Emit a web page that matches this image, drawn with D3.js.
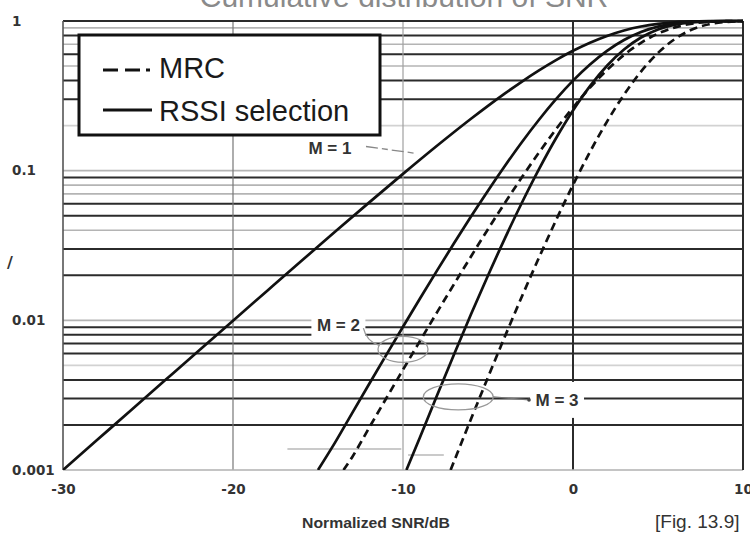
<!DOCTYPE html>
<html>
<head>
<meta charset="utf-8">
<script src="https://cdn.jsdelivr.net/npm/d3@7"></script>
<style>
  html, body { margin: 0; padding: 0; background: #fff; }
  svg { display: block; }
</style>
</head>
<body>
<svg id="chart" width="750" height="542"></svg>
<script>
// ---- data: cumulative distribution of normalized SNR ----
const snrTicks = [-30, -20, -10, 0, 10];
const probTicks = [0.001, 0.01, 0.1, 1];
const probTickLabels = ["0.001", "0.01", "0.1", "1"];

// RSSI selection, M = 1
const selM1Snr = [-30, -28, -26, -24, -22, -20, -18, -16, -14, -12, -10, -8, -6, -5, -4, -3, -2, -1, 0, 1, 2, 3, 4, 5, 6, 7, 8, 9, 10];
const selM1Cdf = [0.001, 0.001584, 0.002509, 0.003973, 0.00629, 0.00995, 0.01572, 0.02481, 0.03903, 0.06115, 0.09516, 0.1466, 0.2222, 0.2711, 0.3284, 0.3942, 0.4679, 0.5481, 0.6321, 0.7161, 0.795, 0.864, 0.9189, 0.9577, 0.9813, 0.9934, 0.9982, 0.9996, 1.0];

// RSSI selection, M = 2
const selM2Snr = [-15, -14, -13, -12, -11, -10, -9, -8, -7, -6, -5, -4, -3, -2, -1, 0, 1, 2, 3, 4, 5, 6, 7, 8, 9, 10];
const selM2Cdf = [0.001, 0.001523, 0.002389, 0.003739, 0.005831, 0.009055, 0.014, 0.02149, 0.03272, 0.04937, 0.0735, 0.1078, 0.1554, 0.2189, 0.3004, 0.3996, 0.5128, 0.632, 0.7465, 0.8444, 0.9172, 0.963, 0.9867, 0.9964, 0.9993, 0.9999];

// RSSI selection, M = 3
const selM3Snr = [-9.8, -9, -8, -7, -6, -5, -4, -3, -2, -1, 0, 1, 2, 3, 4, 5, 6, 7, 8, 9, 10];
const selM3Cdf = [0.001, 0.001656, 0.003151, 0.00592, 0.01097, 0.01992, 0.03542, 0.06126, 0.1024, 0.1647, 0.2526, 0.3672, 0.5025, 0.645, 0.7759, 0.8784, 0.945, 0.9802, 0.9946, 0.9989, 0.9999];

// MRC, M = 2
const mrcM2Snr = [-13.5, -13, -12, -11, -10, -9, -8, -7, -6, -5, -4, -3, -2, -1, 0, 1, 2, 3, 4, 5, 6, 7, 8, 9, 10];
const mrcM2Cdf = [0.001, 0.001214, 0.001909, 0.002993, 0.004679, 0.00728, 0.01131, 0.01744, 0.02672, 0.04065, 0.06105, 0.09057, 0.1322, 0.1892, 0.2642, 0.3586, 0.4702, 0.5927, 0.7151, 0.8239, 0.907, 0.96, 0.9867, 0.9968, 0.9995];

// MRC, M = 3
const mrcM3Snr = [-7.2, -7, -6, -5, -4, -3, -2, -1, 0, 1, 2, 3, 4, 5, 6, 7, 8, 9, 10];
const mrcM3Cdf = [0.001, 0.00114, 0.002191, 0.004165, 0.007826, 0.01448, 0.02625, 0.0466, 0.0803, 0.1336, 0.2127, 0.322, 0.4592, 0.6124, 0.7591, 0.8764, 0.9505, 0.9856, 0.9972];

const legendLabels = ["MRC", "RSSI selection"];
const branchLabels = ["M = 1", "M = 2", "M = 3"];

// ---- layout ----
const svg = d3.select("#chart");
const W = 750, H = 542;
const plot = { left: 63, right: 743, top: 21, bottom: 470 };

const x = d3.scaleLinear().domain([-30, 10]).range([plot.left, plot.right]);
const y = d3.scaleLog().domain([0.001, 1]).range([plot.bottom, plot.top]);

svg.append("rect").attr("width", W).attr("height", H).attr("fill", "#fff");

// title, partly above the visible area
svg.append("text")
  .attr("x", 404).attr("y", 7)
  .attr("text-anchor", "middle")
  .attr("font-family", "Liberation Sans, Arial, sans-serif")
  .attr("font-size", 30)
  .attr("fill", "#8a8a8a")
  .text("Cumulative distribution of SNR");

// ---- horizontal grid at every minor decade step ----
const key = v => +v.toPrecision(2);
const heavyGrid = new Set([0.8, 0.6, 0.4, 0.3, 0.09, 0.06, 0.05, 0.03, 0.02,
                           0.009, 0.008, 0.007, 0.006, 0.004, 0.003, 0.002]);
const faintGrid = new Set([0.2, 0.005]);
const gridG = svg.append("g");
y.ticks().forEach(v => {
  const k = key(v);
  if (k === 1 || k === 0.001) return;
  const heavy = heavyGrid.has(k);
  gridG.append("line")
    .attr("x1", plot.left).attr("x2", plot.right)
    .attr("y1", y(v)).attr("y2", y(v))
    .attr("stroke", heavy ? "#2b2b2b" : (faintGrid.has(k) ? "#d2d2d2" : "#b4b4b4"))
    .attr("stroke-width", heavy ? 2 : 1.6);
});

// loose partial rules near the bottom
const partialRules = [
  { from: -16.8, to: -10.1, p: 0.00138 },
  { from: -9.7, to: -7.6, p: 0.00126 }
];
partialRules.forEach(r => {
  gridG.append("line")
    .attr("x1", x(r.from)).attr("x2", x(r.to))
    .attr("y1", y(r.p)).attr("y2", y(r.p))
    .attr("stroke", "#b8b8b8").attr("stroke-width", 1.6);
});

// vertical rules
const vStyle = { "-20": ["#777", 1.2], "-10": ["#a0a0a0", 1.2], "0": ["#2b2b2b", 2] };
snrTicks.forEach(t => {
  if (t === -30 || t === 10) return;
  const s = vStyle[String(t)];
  gridG.append("line")
    .attr("x1", x(t)).attr("x2", x(t))
    .attr("y1", plot.top).attr("y2", plot.bottom)
    .attr("stroke", s[0]).attr("stroke-width", s[1]);
});

// frame
gridG.append("line").attr("x1", plot.left).attr("x2", plot.right)
  .attr("y1", plot.top).attr("y2", plot.top).attr("stroke", "#2b2b2b").attr("stroke-width", 2);
gridG.append("line").attr("x1", plot.left).attr("x2", plot.right)
  .attr("y1", plot.bottom).attr("y2", plot.bottom).attr("stroke", "#b0b0b0").attr("stroke-width", 1.6);
gridG.append("line").attr("x1", plot.left).attr("x2", plot.left)
  .attr("y1", plot.top).attr("y2", plot.bottom).attr("stroke", "#555").attr("stroke-width", 1.6);
gridG.append("line").attr("x1", plot.right).attr("x2", plot.right)
  .attr("y1", plot.top).attr("y2", plot.bottom).attr("stroke", "#2b2b2b").attr("stroke-width", 2);

// ---- curves ----
svg.append("clipPath").attr("id", "plotClip")
  .append("rect")
  .attr("x", plot.left).attr("y", plot.top - 2)
  .attr("width", plot.right - plot.left).attr("height", plot.bottom - plot.top + 2);

const series = [
  { snr: selM1Snr, cdf: selM1Cdf, dashed: false },
  { snr: selM2Snr, cdf: selM2Cdf, dashed: false },
  { snr: selM3Snr, cdf: selM3Cdf, dashed: false },
  { snr: mrcM2Snr, cdf: mrcM2Cdf, dashed: true },
  { snr: mrcM3Snr, cdf: mrcM3Cdf, dashed: true }
];

const line = d3.line()
  .x(d => x(d[0]))
  .y(d => y(d[1]))
  .curve(d3.curveMonotoneX);

const curveG = svg.append("g").attr("clip-path", "url(#plotClip)");
series.forEach(s => {
  curveG.append("path")
    .datum(d3.zip(s.snr, s.cdf))
    .attr("d", line)
    .attr("fill", "none")
    .attr("stroke", "#111")
    .attr("stroke-width", 2.7)
    .attr("stroke-dasharray", s.dashed ? "8,5" : null);
});

// ---- legend ----
const legend = svg.append("g");
legend.append("rect")
  .attr("x", 79).attr("y", 35).attr("width", 301).attr("height", 100)
  .attr("fill", "#fff").attr("stroke", "#111").attr("stroke-width", 3);
legend.append("line")
  .attr("x1", 103).attr("x2", 151).attr("y1", 70).attr("y2", 70)
  .attr("stroke", "#111").attr("stroke-width", 3)
  .attr("stroke-dasharray", "15,7,15,6,4,100");
legend.append("line")
  .attr("x1", 103).attr("x2", 152).attr("y1", 110).attr("y2", 110)
  .attr("stroke", "#111").attr("stroke-width", 3);
legendLabels.forEach((t, i) => {
  legend.append("text")
    .attr("x", 159).attr("y", i === 0 ? 78 : 121)
    .attr("font-family", "Liberation Sans, Arial, sans-serif")
    .attr("font-size", 29)
    .attr("fill", "#1a1a1a")
    .text(t);
});

// ---- branch annotations ----
const annG = svg.append("g");
const labelFont = "Liberation Sans, Arial, sans-serif";

// label anchors in data coordinates, with the size of the blank patch under each
const labelPos = [
  { snr: -14.3, p: 0.1416, padH: 22 },
  { snr: -13.8, p: 0.0093, padH: 22 },
  { snr: -0.94, p: 0.00294, padH: 36 }
];

// M = 1 pointer
annG.append("line")
  .attr("x1", 366).attr("y1", y(0.145)).attr("x2", x(-9.35)).attr("y2", y(0.131))
  .attr("stroke", "#888").attr("stroke-width", 1.3).attr("stroke-dasharray", "12,4,6,4");

// M = 2 ring
annG.append("ellipse")
  .attr("cx", x(-10)).attr("cy", y(0.0064)).attr("rx", 25).attr("ry", 13)
  .attr("fill", "none").attr("stroke", "#999").attr("stroke-width", 1.3);

// M = 3 ring
annG.append("ellipse")
  .attr("cx", x(-6.75)).attr("cy", y(0.00308)).attr("rx", 35).attr("ry", 13)
  .attr("fill", "none").attr("stroke", "#999").attr("stroke-width", 1.3);

// blank patches under the labels
labelPos.forEach(lp => {
  const cx = x(lp.snr), cy = y(lp.p);
  annG.append("rect")
    .attr("x", cx - 27).attr("y", cy - lp.padH / 2).attr("width", 54).attr("height", lp.padH)
    .attr("fill", "#fff");
});

// M = 2 hook from label to ring
const m2x = x(labelPos[1].snr) + 25, m2y = y(labelPos[1].p) + 3;
annG.append("path")
  .attr("d", `M${m2x},${m2y} Q${m2x + 3},${m2y + 13} ${x(-10) - 24},${y(0.0064) - 4}`)
  .attr("fill", "none").attr("stroke", "#999").attr("stroke-width", 1.3);

// M = 3 pointer from ring to label
annG.append("line")
  .attr("x1", x(-6.75) + 35).attr("y1", y(0.00308))
  .attr("x2", x(labelPos[2].snr) - 28).attr("y2", y(labelPos[2].p))
  .attr("stroke", "#777").attr("stroke-width", 1.3);
annG.append("circle")
  .attr("cx", x(labelPos[2].snr) - 28).attr("cy", y(labelPos[2].p)).attr("r", 1.8).attr("fill", "#444");

labelPos.forEach((lp, i) => {
  annG.append("text")
    .attr("x", x(lp.snr)).attr("y", y(lp.p))
    .attr("dy", "0.36em")
    .attr("text-anchor", "middle")
    .attr("font-family", labelFont)
    .attr("font-size", 17)
    .attr("font-weight", "bold")
    .attr("fill", "#333")
    .text(branchLabels[i]);
});

// ---- axes ----
const tickFont = "DejaVu Sans, sans-serif";
const xAxisG = svg.append("g")
  .attr("transform", `translate(0,${plot.bottom})`)
  .call(d3.axisBottom(x).tickValues(snrTicks).tickSize(0).tickPadding(14).tickFormat(d => String(d)));
xAxisG.select(".domain").remove();
xAxisG.selectAll("text")
  .attr("font-family", tickFont).attr("font-size", 13.5).attr("font-weight", "bold").attr("fill", "#333");

const yAxisG = svg.append("g")
  .attr("transform", `translate(${plot.left},0)`)
  .call(d3.axisLeft(y).tickValues(probTicks).tickSize(0)
    .tickFormat((d, i) => probTickLabels[i]));
yAxisG.select(".domain").remove();
yAxisG.selectAll("text")
  .attr("x", 12 - plot.left)
  .attr("text-anchor", "start")
  .attr("font-family", tickFont).attr("font-size", 13.5).attr("font-weight", "bold").attr("fill", "#333");

// stray mark of the vertical axis caption
svg.append("text")
  .attr("x", 7).attr("y", 268)
  .attr("font-family", tickFont).attr("font-size", 16).attr("font-weight", "bold").attr("fill", "#333")
  .text("/");

// axis caption and figure reference
svg.append("text")
  .attr("x", 376).attr("y", 528)
  .attr("text-anchor", "middle")
  .attr("font-family", "Liberation Sans, Arial, sans-serif")
  .attr("font-size", 15).attr("font-weight", "bold").attr("fill", "#333")
  .attr("textLength", 148).attr("lengthAdjust", "spacingAndGlyphs")
  .text("Normalized SNR/dB");

svg.append("text")
  .attr("x", 655).attr("y", 528)
  .attr("font-family", "Liberation Sans, Arial, sans-serif")
  .attr("font-size", 19).attr("fill", "#333")
  .text("[Fig. 13.9]");
</script>
</body>
</html>
